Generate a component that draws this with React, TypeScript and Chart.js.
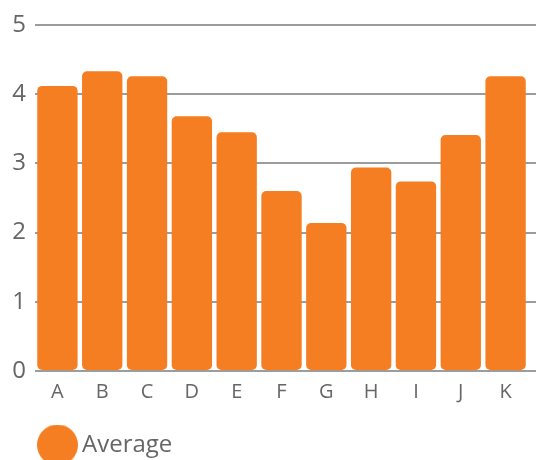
import React, { useEffect, useRef } from "react";
import { Chart, registerables } from "chart.js";

Chart.register(...registerables);

const categories = ["A", "B", "C", "D", "E", "F", "G", "H", "I", "J", "K"];
const averageValues = [4.12, 4.33, 4.26, 3.68, 3.45, 2.6, 2.14, 2.94, 2.74, 3.41, 4.26];
const seriesLabel = "Average";
const yTickValues = [0, 1, 2, 3, 4, 5];

const ORANGE = "#F47E21";
const GRID = "#9c9c9c";
const TEXT = "#666666";
const FONT = "'Open Sans', sans-serif";

export default function App() {
  const ref = useRef<HTMLCanvasElement | null>(null);

  useEffect(() => {
    if (!ref.current) return;
    const dot = document.createElement("canvas");
    dot.width = 41;
    dot.height = 41;
    const dctx = dot.getContext("2d");
    if (dctx) {
      dctx.fillStyle = ORANGE;
      dctx.beginPath();
      dctx.arc(20.5, 20.5, 20.5, 0, Math.PI * 2);
      dctx.fill();
    }
    const chart = new Chart(ref.current, {
      type: "bar",
      data: {
        labels: categories,
        datasets: [
          {
            label: seriesLabel,
            data: averageValues,
            backgroundColor: ORANGE,
            borderWidth: 0,
            borderRadius: 5,
            borderSkipped: false,
            categoryPercentage: 0.9,
            barPercentage: 1,
          },
        ],
      },
      options: {
        animation: false,
        responsive: true,
        maintainAspectRatio: false,
        layout: { padding: { left: 0, right: 0, top: 25, bottom: 0 } },
        scales: {
          x: {
            grid: { display: false, drawTicks: false },
            border: { display: false },
            ticks: { color: TEXT, font: { family: FONT, size: 20 }, padding: 9 },
            afterFit: (s: any) => {
              s.height = 52;
            },
          },
          y: {
            min: 0,
            max: 5,
            afterBuildTicks: (s: any) => {
              s.ticks = yTickValues.map((v) => ({ value: v }));
            },
            grid: { color: GRID, lineWidth: 2, drawTicks: false },
            border: { display: false },
            ticks: { color: TEXT, font: { family: FONT, size: 24 }, padding: 9 },
            afterFit: (s: any) => {
              s.width = 35;
            },
          },
          y2: {
            position: "right",
            min: 0,
            max: 5,
            afterBuildTicks: (s: any) => {
              s.ticks = yTickValues.map((v) => ({ value: v }));
            },
            grid: { color: GRID, lineWidth: 2, drawOnChartArea: false, drawTicks: true, tickLength: 8 },
            border: { display: false },
            ticks: { display: false },
          },
        },
        plugins: {
          legend: {
            position: "bottom",
            align: "start",
            fullSize: false,
            labels: {
              usePointStyle: true,
              pointStyle: dot as any,
              pointStyleWidth: 25,
              padding: 10,
              color: TEXT,
              font: { family: FONT, size: 24 },
            },
          },
          tooltip: { enabled: false },
        },
      },
    });
    return () => chart.destroy();
  }, []);

  return (
    <div style={{ position: "absolute", left: 0, top: 0, width: 536, height: 460, overflow: "hidden" }}>
      <div style={{ position: "relative", width: 536, height: 467 }}>
        <canvas ref={ref} />
      </div>
    </div>
  );
}
